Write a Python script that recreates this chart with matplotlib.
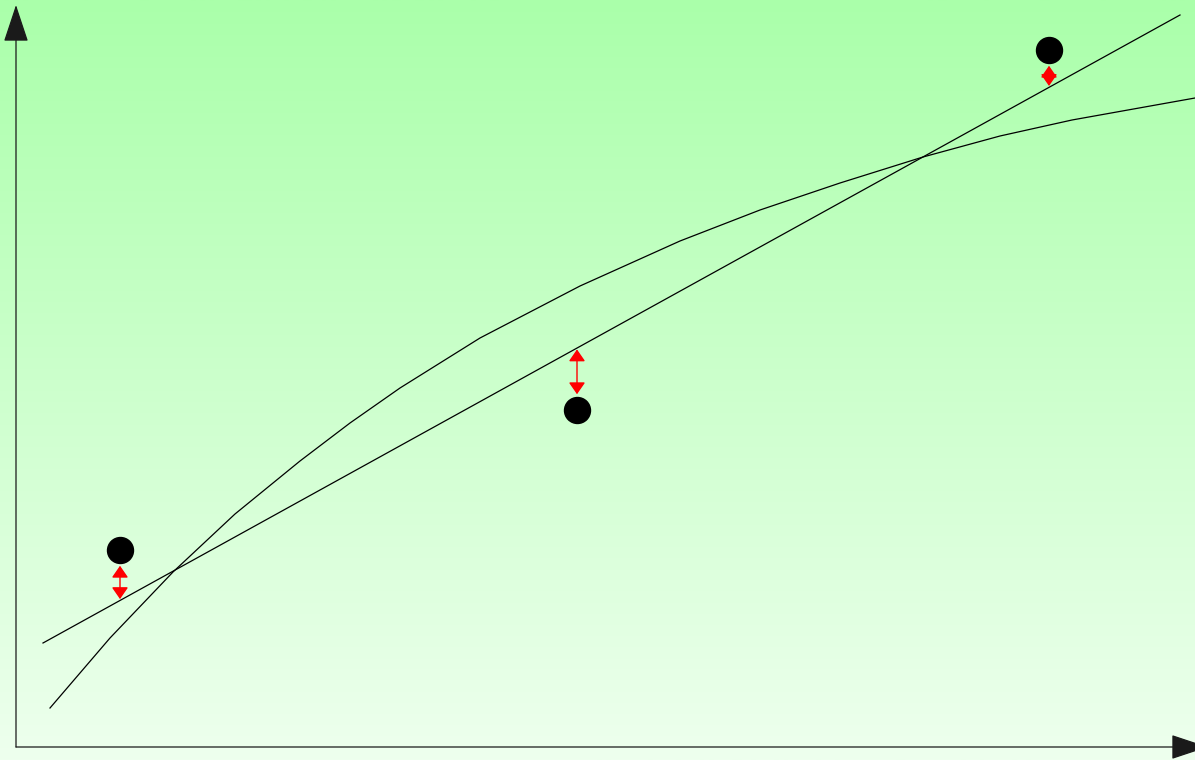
import numpy as np
import matplotlib
matplotlib.use("Agg")
import matplotlib.pyplot as plt
from matplotlib.colors import LinearSegmentedColormap

# Data (units: 1 unit = 100 px from origin)
point_x = [1.04, 5.61, 10.33]
point_y = [1.97, 3.37, 6.97]

line_x = [0.27, 11.64]
line_y = [1.04, 7.32]

curve_x = [0.34, 0.94, 1.57, 2.19, 2.84, 3.34, 3.84, 4.64, 5.64, 6.64,
           7.44, 8.24, 9.07, 9.84, 10.56, 11.79]
curve_y = [0.39, 1.09, 1.75, 2.33, 2.86, 3.24, 3.59, 4.09, 4.61, 5.06,
           5.37, 5.64, 5.90, 6.11, 6.27, 6.49]

W, H = 1195, 760
fig = plt.figure(figsize=(W / 100, H / 100), dpi=100)
ax = fig.add_axes([0, 0, 1, 1])
x0, x1 = -0.16, -0.16 + W / 100
y0, y1 = -0.13, -0.13 + H / 100
ax.set_xlim(x0, x1)
ax.set_ylim(y0, y1)
ax.axis("off")

# background gradient
cmap = LinearSegmentedColormap.from_list("g", ["#eeffee", "#aaffaa"])
grad = np.linspace(0, 1, 256).reshape(-1, 1)
ax.imshow(grad, aspect="auto", cmap=cmap, origin="lower",
          extent=[x0, x1, y0, y1], zorder=0)

# axes with arrowheads
axis_kw = dict(arrowstyle="-|>,head_length=23.8,head_width=7.9",
               color="#1a1a1a", lw=0.9, mutation_scale=1,
               shrinkA=0, shrinkB=0)
ax.annotate("", xy=(0, 7.42), xytext=(0, 0), arrowprops=axis_kw,
            annotation_clip=False)
ax.annotate("", xy=(11.92, 0), xytext=(0, 0), arrowprops=axis_kw,
            annotation_clip=False)

# fitted line and curve
ax.plot(line_x, line_y, color="black", lw=0.9, zorder=2)
ax.plot(curve_x, curve_y, color="black", lw=0.9, zorder=2,
        solid_joinstyle="round")

# points
ax.plot(point_x, point_y, "o", color="black", markersize=18.7, zorder=4)

# residual arrows
radius = 0.13
for px, py in zip(point_x, point_y):
    ly = float(np.interp(px, line_x, line_y))
    start = py - radius if ly < py else py + radius
    ax.annotate("", xy=(px, ly), xytext=(px, start),
                arrowprops=dict(arrowstyle="<|-|>,head_length=7.2,head_width=5",
                                color="red", lw=1.0, mutation_scale=1,
                                shrinkA=2.0, shrinkB=1.0),
                zorder=3)

fig.savefig("out.png", dpi=100)
